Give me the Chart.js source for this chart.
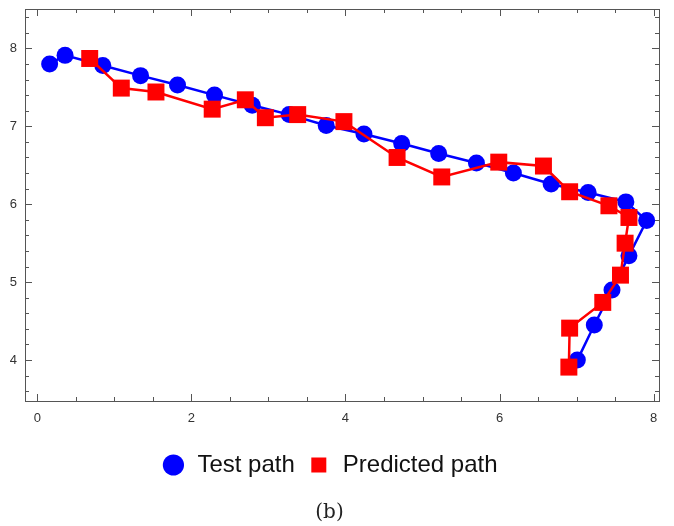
<!DOCTYPE html>
<html>
<head>
<meta charset="utf-8">
<script src="https://cdn.jsdelivr.net/npm/chart.js@4/dist/chart.umd.min.js"></script>
<style>
  html, body { margin: 0; padding: 0; background: #fff; overflow: hidden; }
  #wrap { width: 674px; height: 526px; overflow: hidden; }
  #chart { display: block; margin-top: -3px; }
</style>
</head>
<body>
<div id="wrap"><canvas id="chart" width="674" height="529"></canvas></div>
<script>
// test path (blue circles)
const testX = [0.16, 0.36, 0.85, 1.34, 1.82, 2.30, 2.79, 3.27, 3.75, 4.24, 4.73, 5.21, 5.70, 6.18, 6.67, 7.15, 7.64, 7.91, 7.68, 7.46, 7.23, 7.01]
const testY = [7.80, 7.91, 7.78, 7.65, 7.53, 7.40, 7.27, 7.15, 7.01, 6.90, 6.78, 6.65, 6.53, 6.40, 6.26, 6.15, 6.03, 5.79, 5.34, 4.90, 4.45, 4.00]

// predicted path (red squares)
const predX = [0.68, 1.09, 1.54, 2.27, 2.70, 2.96, 3.38, 3.98, 4.67, 5.25, 5.99, 6.57, 6.91, 7.42, 7.68, 7.63, 7.57, 7.34, 6.91, 6.90]
const predY = [7.87, 7.49, 7.44, 7.22, 7.34, 7.11, 7.15, 7.06, 6.60, 6.35, 6.54, 6.49, 6.16, 5.98, 5.83, 5.50, 5.09, 4.74, 4.41, 3.91]

const xTicks = [0, 2, 4, 6, 8]
const yTicks = [4, 5, 6, 7, 8]

const toPts = (xs, ys) => xs.map((x, i) => ({ x, y: ys[i] }))

// box frame with inward ticks on all four sides
const framePlugin = {
  id: 'frame',
  beforeDatasetsDraw(chart) {
    const { ctx, chartArea: a, scales: { x, y } } = chart
    ctx.save()
    ctx.strokeStyle = '#555'
    ctx.lineWidth = 1
    ctx.strokeRect(a.left + 0.5, a.top + 0.5, a.right - a.left, a.bottom - a.top)
    ctx.beginPath()
    for (let v = 0; v <= 8.001; v += 0.5) {
      const px = Math.round(x.getPixelForValue(v)) + 0.5
      const len = xTicks.includes(v) ? 7 : 4
      ctx.moveTo(px, a.bottom); ctx.lineTo(px, a.bottom - len)
      ctx.moveTo(px, a.top); ctx.lineTo(px, a.top + len)
    }
    for (let k = 18; k <= 42; k++) {
      const v = k / 5
      const py = Math.round(y.getPixelForValue(v)) + 0.5
      const len = yTicks.includes(v) ? 7 : 4
      ctx.moveTo(a.left, py); ctx.lineTo(a.left + len, py)
      ctx.moveTo(a.right, py); ctx.lineTo(a.right - len, py)
    }
    ctx.stroke()
    ctx.restore()
  }
}

new Chart(document.getElementById('chart'), {
  type: 'scatter',
  data: {
    datasets: [
      {
        label: 'Test path',
        data: toPts(testX, testY),
        showLine: true,
        borderColor: '#0000ff',
        backgroundColor: '#0000ff',
        borderWidth: 2.5,
        pointStyle: 'circle',
        pointRadius: 8.5,
        pointHoverRadius: 8.5,
        pointBorderWidth: 0,
        order: 1
      },
      {
        label: 'Predicted path',
        data: toPts(predX, predY),
        showLine: true,
        borderColor: '#ff0000',
        backgroundColor: '#ff0000',
        borderWidth: 2.5,
        pointStyle: 'rect',
        pointRadius: 12,
        pointHoverRadius: 12,
        pointBorderWidth: 0,
        order: 0
      }
    ]
  },
  options: {
    responsive: false,
    animation: false,
    layout: { padding: { left: 0, right: 15, top: 0, bottom: 0 } },
    scales: {
      x: {
        type: 'linear',
        min: -0.16,
        max: 8.07,
        afterBuildTicks: s => { s.ticks = xTicks.map(v => ({ value: v })) },
        afterFit: s => { s.height = 40; s.paddingLeft = 0; s.paddingRight = 0 },
        grid: { display: false, drawTicks: false },
        border: { display: false },
        ticks: { color: '#333', padding: 10, font: { family: 'Liberation Sans', size: 13 } }
      },
      y: {
        type: 'linear',
        min: 3.475,
        max: 8.505,
        afterBuildTicks: s => { s.ticks = yTicks.map(v => ({ value: v })) },
        afterFit: s => { s.width = 25; s.paddingTop = 0; s.paddingBottom = 0 },
        grid: { display: false, drawTicks: false },
        border: { display: false },
        ticks: { color: '#333', padding: 8, font: { family: 'Liberation Sans', size: 13 } }
      }
    },
    plugins: {
      legend: {
        position: 'bottom',
        labels: {
          usePointStyle: true,
          boxHeight: 15,
          padding: 12,
          color: '#111',
          font: { family: 'Liberation Sans', size: 24 },
          sort: (a, b) => a.datasetIndex - b.datasetIndex
        }
      },
      title: {
        display: true,
        position: 'bottom',
        text: '(b)',
        color: '#222',
        font: { family: 'DejaVu Serif', size: 20, weight: 'normal' },
        padding: { top: 14, bottom: 1 }
      },
      tooltip: { enabled: false }
    }
  },
  plugins: [framePlugin]
})
</script>
</body>
</html>
